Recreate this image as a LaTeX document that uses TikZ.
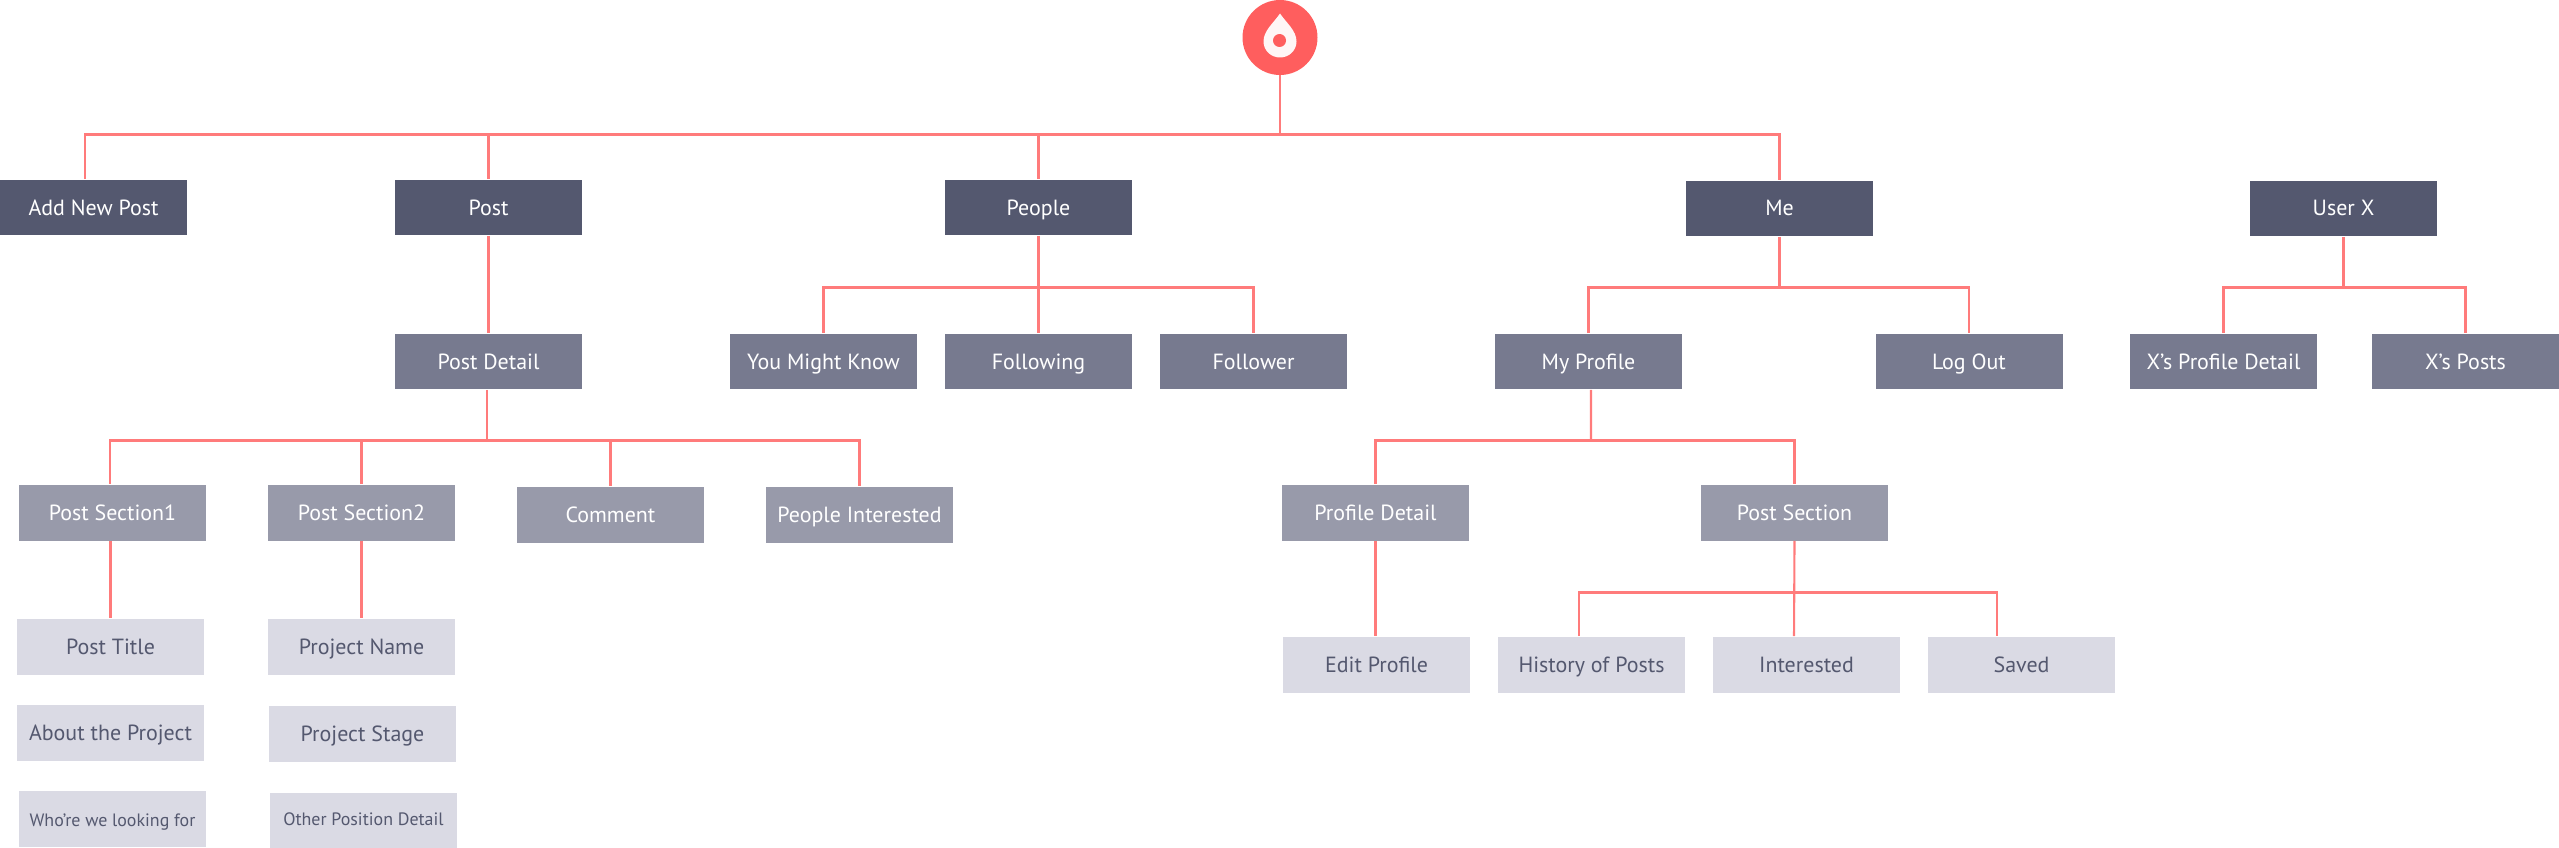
\documentclass[tikz,border=0pt]{standalone}
\usepackage{fontspec}
\setmainfont{PT Sans}
\definecolor{wirered}{HTML}{FF7B7B}
\definecolor{rootred}{HTML}{FF5E5E}
\definecolor{dropwhite}{HTML}{FFF6F6}
\definecolor{topgrey}{HTML}{54586F}
\definecolor{midgrey}{HTML}{777A8F}
\definecolor{subgrey}{HTML}{989AAA}
\definecolor{leafgrey}{HTML}{DADAE4}
\tikzset{
	wire/.style={draw=wirered,line width=0.042cm},
	basebox/.style={rectangle,minimum width=3.74cm,minimum height=1.12cm,inner sep=0pt,text height=0.3cm,text depth=0pt,font=\fontsize{12.5}{15}\selectfont},
	topbox/.style={basebox,fill=topgrey,text=white},
	midbox/.style={basebox,fill=midgrey,text=white},
	subbox/.style={basebox,fill=subgrey,text=white},
	leafbox/.style={basebox,fill=leafgrey,text=topgrey},
	smallleaf/.style={leafbox,font=\fontsize{10.2}{12}\selectfont}
}

\begin{document}
\begin{tikzpicture}[x=0.02cm,y=-0.02cm]
\useasboundingbox (0,-0.5) rectangle (2559,847.5);

\node[circle,fill=rootred,minimum size=1.5cm,inner sep=0pt] (root) at (1280,37) {};
\fill[dropwhite] (1280,13) .. controls (1274,22) and (1263.5,30) .. (1263.5,41)
	.. controls (1263.5,50) and (1271,57) .. (1280,57)
	.. controls (1289,57) and (1296.5,50) .. (1296.5,41)
	.. controls (1296.5,30) and (1286,22) .. (1280,13) -- cycle;
\fill[rootred] (1279.5,40) circle (0.13cm);

\node[topbox] (add) at (93.5,207) {Add New Post};
\node[topbox] (post) at (488.5,207) {Post};
\node[topbox] (people) at (1038.5,207) {People};
\node[topbox] (me) at (1779.5,208) {Me};
\node[topbox] (userx) at (2343.5,208) {User X};

\node[midbox] (postdetail) at (488.5,361) {Post Detail};
\node[midbox] (know) at (823.5,361) {You Might Know};
\node[midbox] (following) at (1038.5,361) {Following};
\node[midbox] (follower) at (1253.5,361) {Follower};
\node[midbox] (myprofile) at (1588.5,361) {My Profile};
\node[midbox] (logout) at (1969,361) {Log Out};
\node[midbox] (xdetail) at (2223.5,361) {X’s Profile Detail};
\node[midbox] (xposts) at (2465.5,361) {X’s Posts};

\node[subbox] (section1) at (112.5,512) {Post Section1};
\node[subbox] (section2) at (361.5,512) {Post Section2};
\node[subbox] (comment) at (610.5,514) {Comment};
\node[subbox] (peopleint) at (859.5,514) {People Interested};
\node[subbox] (profiledetail) at (1375.5,512) {Profile Detail};
\node[subbox] (postsection) at (1794.5,512) {Post Section};

\node[leafbox] (title) at (110.5,646) {Post Title};
\node[leafbox] (about) at (110.5,732) {About the Project};
\node[smallleaf] (who) at (112.5,818) {Who’re we looking for};
\node[leafbox] (pname) at (361.5,646) {Project Name};
\node[leafbox] (pstage) at (362.5,733) {Project Stage};
\node[smallleaf,text depth=0.12cm] (other) at (363.5,820) {Other Position Detail};
\node[leafbox] (edit) at (1376.5,664) {Edit Profile};
\node[leafbox] (history) at (1591.5,664) {History of Posts};
\node[leafbox] (interested) at (1806.5,664) {Interested};
\node[leafbox] (saved) at (2021.5,664) {Saved};

\coordinate (topbus) at (1280,134);
\coordinate (detailbus) at (487,440);
\coordinate (peoplebus) at (1038.5,287);
\coordinate (mebus) at (1779.5,287);
\coordinate (userbus) at (2343.5,287);
\coordinate (profilebus) at (1591,440);
\coordinate (sectionbus) at (1794,592);

\draw[wire] (root) -- (topbus);
\draw[wire] ([xshift=-0.17cm]add.north) |- (topbus) -| (me.north);
\draw[wire] (post.north) -- (post.north |- topbus);
\draw[wire] (people.north) -- (people.north |- topbus);
\draw[wire] (post) -- (postdetail);

\draw[wire] (people) -- (following);
\draw[wire] (know.north) |- (peoplebus) -| (follower.north);

\draw[wire] (me.south) -- (mebus);
\draw[wire] (myprofile.north) |- (mebus) -| (logout.north);

\draw[wire] (userx.south) -- (userbus);
\draw[wire] (xdetail.north) |- (userbus) -| (xposts.north);

\draw[wire] (postdetail.south -| detailbus) -- (detailbus);
\draw[wire] ([xshift=-0.05cm]section1.north) |- (detailbus) -| (peopleint.north);
\draw[wire] (section2.north) -- (section2.north |- detailbus);
\draw[wire] (comment.north) -- (comment.north |- detailbus);
\draw[wire] (section1.south -| title.north) -- (title.north);
\draw[wire] (section2) -- (pname);

\draw[wire] ([xshift=0.05cm]myprofile.south) -- (profilebus);
\draw[wire] (profiledetail.north) |- (profilebus) -| (postsection.north);
\draw[wire] (profiledetail.south) -- ([xshift=-0.02cm]edit.north);

\draw[wire] (postsection.south) -- ([xshift=-0.25cm]interested.north);
\draw[wire] ([xshift=-0.25cm]history.north) |- (sectionbus) -| ([xshift=-0.49cm]saved.north);
\end{tikzpicture}
\end{document}
